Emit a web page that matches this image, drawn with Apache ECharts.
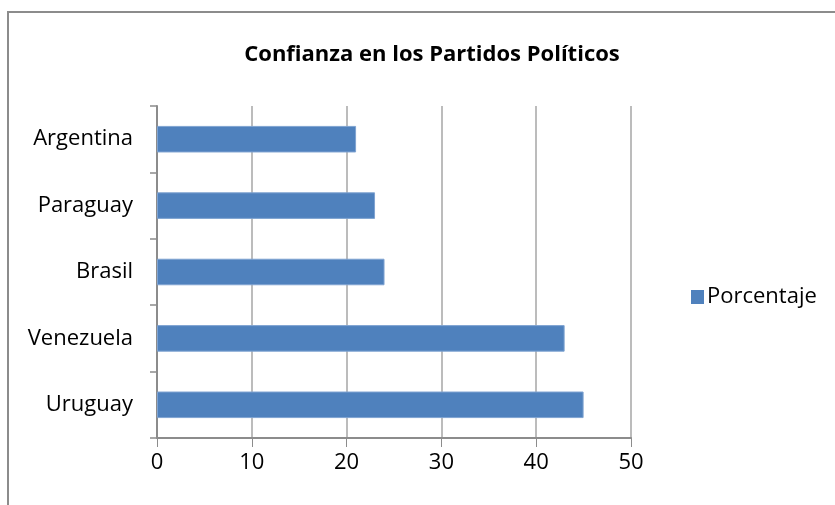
<!DOCTYPE html>
<html>
<head>
<meta charset="utf-8">
<script src="https://cdn.jsdelivr.net/npm/echarts@6/dist/echarts.min.js"></script>
<style>
  html, body { margin: 0; padding: 0; background: #fff; }
  #chart { width: 835px; height: 505px; }
</style>
</head>
<body>
<div id="chart"></div>
<script>
// datos
const paises = ['Argentina', 'Paraguay', 'Brasil', 'Venezuela', 'Uruguay'];
const porcentaje = [21, 23, 24, 43, 45];
const xTicks = [0, 10, 20, 30, 40, 50];

const FONT = '"Open Sans", sans-serif';

const chart = echarts.init(document.getElementById('chart'));

const option = {
  backgroundColor: '#fff',
  animation: false,
  title: {
    text: 'Confianza en los Partidos Políticos',
    left: 427,
    textAlign: 'center',
    top: 39,
    textStyle: { fontFamily: FONT, fontWeight: 'bold', fontSize: 22, color: '#000' }
  },
  // marco del gráfico
  graphic: [{
    type: 'rect',
    shape: { x: 8, y: 12, width: 900, height: 600 },
    style: { fill: 'none', stroke: '#8c8c8c', lineWidth: 2 },
    silent: true
  }],
  legend: {
    left: 686,
    top: 281,
    icon: 'rect',
    itemWidth: 13,
    itemHeight: 14,
    itemGap: 6,
    data: ['Porcentaje'],
    itemStyle: { borderWidth: 0 },
    textStyle: { fontFamily: FONT, fontSize: 22, color: '#000', padding: [0, 0, 0, -2] }
  },
  grid: { left: 157, right: 204, top: 106, bottom: 67 },
  xAxis: {
    type: 'value',
    min: xTicks[0],
    max: xTicks[xTicks.length - 1],
    interval: 10,
    axisLine: { show: true, lineStyle: { color: '#8c8c8c', width: 2 } },
    axisTick: { show: true, length: 9, lineStyle: { color: '#8c8c8c', width: 1 } },
    splitLine: { show: true, lineStyle: { color: '#a6a6a6', width: 1.5 } },
    axisLabel: { fontFamily: FONT, fontSize: 22, color: '#000', margin: 14 }
  },
  yAxis: {
    type: 'category',
    inverse: true,
    data: paises,
    axisLine: { show: true, lineStyle: { color: '#8c8c8c', width: 2 } },
    axisTick: { show: true, length: 7, lineStyle: { color: '#8c8c8c', width: 1.5 } },
    axisLabel: { fontFamily: FONT, fontSize: 22, color: '#000', margin: 24 }
  },
  series: [{
    name: 'Porcentaje',
    type: 'bar',
    data: porcentaje,
    barCategoryGap: '60%',
    itemStyle: { color: '#4f81bd', borderColor: '#7fa3d1', borderWidth: 1 }
  }]
};

chart.setOption(option);
</script>
</body>
</html>
